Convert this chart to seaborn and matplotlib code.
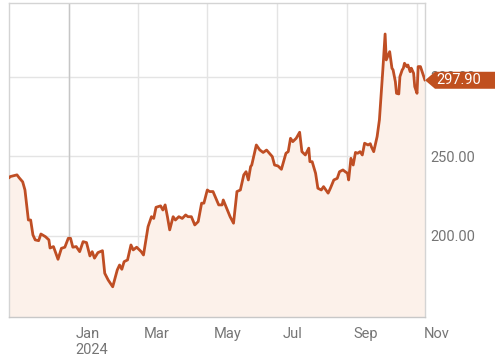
import matplotlib
matplotlib.use("Agg")
import matplotlib.pyplot as plt
import matplotlib.dates as mdates
import matplotlib.transforms as mtransforms
from matplotlib.patches import Polygon
import pandas as pd
import seaborn as sns

dates = [
    "2023-11-09", "2023-11-10", "2023-11-16", "2023-11-18", "2023-11-21", "2023-11-23",
    "2023-11-26", "2023-11-28", "2023-11-30", "2023-12-02", "2023-12-05", "2023-12-07",
    "2023-12-11", "2023-12-14", "2023-12-15", "2023-12-18", "2023-12-22", "2023-12-25",
    "2023-12-28", "2023-12-31", "2024-01-02", "2024-01-04", "2024-01-07", "2024-01-10",
    "2024-01-13", "2024-01-16", "2024-01-19", "2024-01-21", "2024-01-23", "2024-01-26",
    "2024-01-30", "2024-02-01", "2024-02-04", "2024-02-08", "2024-02-12", "2024-02-14",
    "2024-02-16", "2024-02-18", "2024-02-21", "2024-02-24", "2024-02-26", "2024-02-29",
    "2024-03-04", "2024-03-06", "2024-03-08", "2024-03-10", "2024-03-13", "2024-03-15",
    "2024-03-17", "2024-03-21", "2024-03-23", "2024-03-25", "2024-03-27", "2024-03-29",
    "2024-04-01", "2024-04-03", "2024-04-06", "2024-04-09", "2024-04-12", "2024-04-14",
    "2024-04-17", "2024-04-20", "2024-04-23", "2024-04-26", "2024-04-28", "2024-05-01",
    "2024-05-03", "2024-05-06", "2024-05-11", "2024-05-14", "2024-05-15", "2024-05-18",
    "2024-05-21", "2024-05-24", "2024-05-27", "2024-05-30", "2024-06-02", "2024-06-04",
    "2024-06-06", "2024-06-08", "2024-06-09", "2024-06-13", "2024-06-16", "2024-06-19",
    "2024-06-22", "2024-06-27", "2024-06-29", "2024-07-02", "2024-07-05", "2024-07-09",
    "2024-07-11", "2024-07-13", "2024-07-15", "2024-07-18", "2024-07-21", "2024-07-23",
    "2024-07-26", "2024-07-29", "2024-07-30", "2024-08-01", "2024-08-04", "2024-08-06",
    "2024-08-09", "2024-08-11", "2024-08-13", "2024-08-15", "2024-08-17", "2024-08-20",
    "2024-08-23", "2024-08-25", "2024-08-28", "2024-08-30", "2024-09-01", "2024-09-02",
    "2024-09-04", "2024-09-06", "2024-09-08", "2024-09-10", "2024-09-12", "2024-09-14",
    "2024-09-16", "2024-09-19", "2024-09-21", "2024-09-22", "2024-09-24", "2024-09-27",
    "2024-09-29", "2024-10-01", "2024-10-02", "2024-10-04", "2024-10-05", "2024-10-08",
    "2024-10-10", "2024-10-11", "2024-10-13", "2024-10-14", "2024-10-16", "2024-10-17",
    "2024-10-19", "2024-10-20", "2024-10-21", "2024-10-23", "2024-10-24", "2024-10-26",
    "2024-10-27", "2024-10-29", "2024-10-30", "2024-11-01", "2024-11-02", "2024-11-04",
    "2024-11-06", "2024-11-08",
]
prices = [
    236.5, 237.3, 238.4, 236.5, 234.0, 228.9,
    210.0, 210.0, 200.6, 197.5, 197.0, 201.2,
    199.5, 197.5, 192.4, 193.3, 185.3, 192.2,
    192.9, 198.5, 198.5, 192.9, 193.3, 190.1,
    196.4, 195.8, 187.4, 190.1, 186.0, 189.5,
    190.7, 176.5, 172.3, 168.0, 178.6, 181.7,
    179.0, 183.8, 184.9, 194.3, 191.2, 192.9,
    190.1, 188.0, 197.0, 205.8, 212.1, 211.0,
    218.0, 218.9, 216.3, 219.5, 212.1, 203.8,
    212.1, 210.0, 212.1, 211.0, 213.2, 212.1,
    212.1, 206.9, 209.0, 220.6, 220.6, 228.9,
    227.9, 227.9, 219.5, 219.5, 222.6, 217.4,
    212.1, 208.0, 227.9, 228.9, 238.4, 240.4,
    235.2, 243.6, 244.6, 257.2, 254.1, 252.5,
    254.0, 249.9, 244.6, 244.0, 241.9, 252.0,
    253.0, 261.4, 259.3, 261.4, 265.2, 253.0,
    250.9, 255.2, 246.7, 246.7, 239.4, 230.0,
    228.9, 231.0, 228.9, 226.9, 230.0, 235.2,
    236.2, 240.4, 241.5, 240.4, 239.4, 235.2,
    248.8, 244.6, 252.5, 252.0, 253.0, 250.9,
    258.3, 257.2, 258.0, 256.0, 253.0, 262.5,
    273.0, 293.9, 304.4, 327.0, 310.7, 315.9,
    305.5, 304.4, 297.0, 289.7, 289.3, 300.2,
    304.4, 305.5, 308.6, 306.5, 307.5, 303.3,
    305.5, 302.3, 293.9, 289.7, 306.5, 306.5,
    302.3, 297.9,
]
tick_months = ["2024-01-01", "2024-03-01", "2024-05-01", "2024-07-01", "2024-09-01", "2024-11-01"]
tick_labels = ["Jan\n2024", "Mar", "May", "Jul", "Sep", "Nov"]
y_ticks = [200, 250, 300]
y_tick_labels = ["200.00", "250.00", "300.00"]
last_label = "297.90"

LINE = "#bf4e24"
FILL = "#fcf1ea"
TXT = "#757575"

sns.set_theme(style="white")
plt.rcParams["font.family"] = ["Roboto", "DejaVu Sans"]

df = pd.DataFrame({"date": pd.to_datetime(dates), "price": prices})

fig = plt.figure(figsize=(4.95, 3.57), dpi=100)
ax = fig.add_axes([9 / 495, 40 / 357, 416 / 495, 314 / 357])
ax.set_xlim(pd.Timestamp("2023-11-09"), pd.Timestamp("2024-11-08"))
ax.set_ylim(149, 346.5)
ymin = ax.get_ylim()[0]

ax.fill_between(df["date"], df["price"], ymin, color=FILL, linewidth=0, zorder=1)
sns.lineplot(data=df, x="date", y="price", ax=ax, color=LINE, linewidth=2, zorder=3)
ax.set_xlabel("")
ax.set_ylabel("")

ax.set_axisbelow(True)
ax.grid(True, color="#e4e4e4", linewidth=1)
ax.axvline(pd.Timestamp(tick_months[0]), color="#c6c6c6", linewidth=1, zorder=0.6)

for s in ax.spines.values():
    s.set_color("#d4d4d4")
    s.set_linewidth(1)
ax.spines["bottom"].set_color("#c8c8c8")

# y axis on right
ax.yaxis.tick_right()
ax.set_yticks(y_ticks)
ax.set_yticklabels(y_tick_labels)
ax.tick_params(axis="y", length=0, pad=4, labelsize=10.5, labelcolor=TXT)

# x axis
ax.set_xticks(pd.to_datetime(tick_months))
ax.set_xticklabels(tick_labels, ha="left")
ax.tick_params(axis="x", length=6, width=1, color="#d0d0d0", pad=1,
               labelsize=10.5, labelcolor=TXT)
offset = mtransforms.ScaledTranslation(4.5 / 72, 0, fig.dpi_scale_trans)
for lab in ax.get_xticklabels():
    lab.set_transform(lab.get_transform() + offset)
jan_tick = ax.xaxis.get_major_ticks()[0]
jan_tick.tick1line.set_markersize(10)
jan_tick.tick1line.set_color("#bdbdbd")

# last price tag
last_x = mdates.date2num(df["date"].iloc[-1])
last_y = df["price"].iloc[-1]
y_px = ax.transData.transform((last_x, last_y))[1]
x_px = ax.transAxes.transform((1, 0))[0]
W = fig.get_figwidth() * fig.dpi
h = 8.5
tag = Polygon([(x_px, y_px), (x_px + 10, y_px + h), (W, y_px + h), (W, y_px - h),
               (x_px + 10, y_px - h)], closed=True, facecolor="#c0501f",
              edgecolor="none", transform=mtransforms.IdentityTransform(), zorder=10)
fig.add_artist(tag)
fig.text(x_px + 11, y_px, last_label, color="white", fontsize=10.5, ha="left",
         va="center", transform=mtransforms.IdentityTransform(), zorder=11)

fig.savefig("out.png", dpi=100)
